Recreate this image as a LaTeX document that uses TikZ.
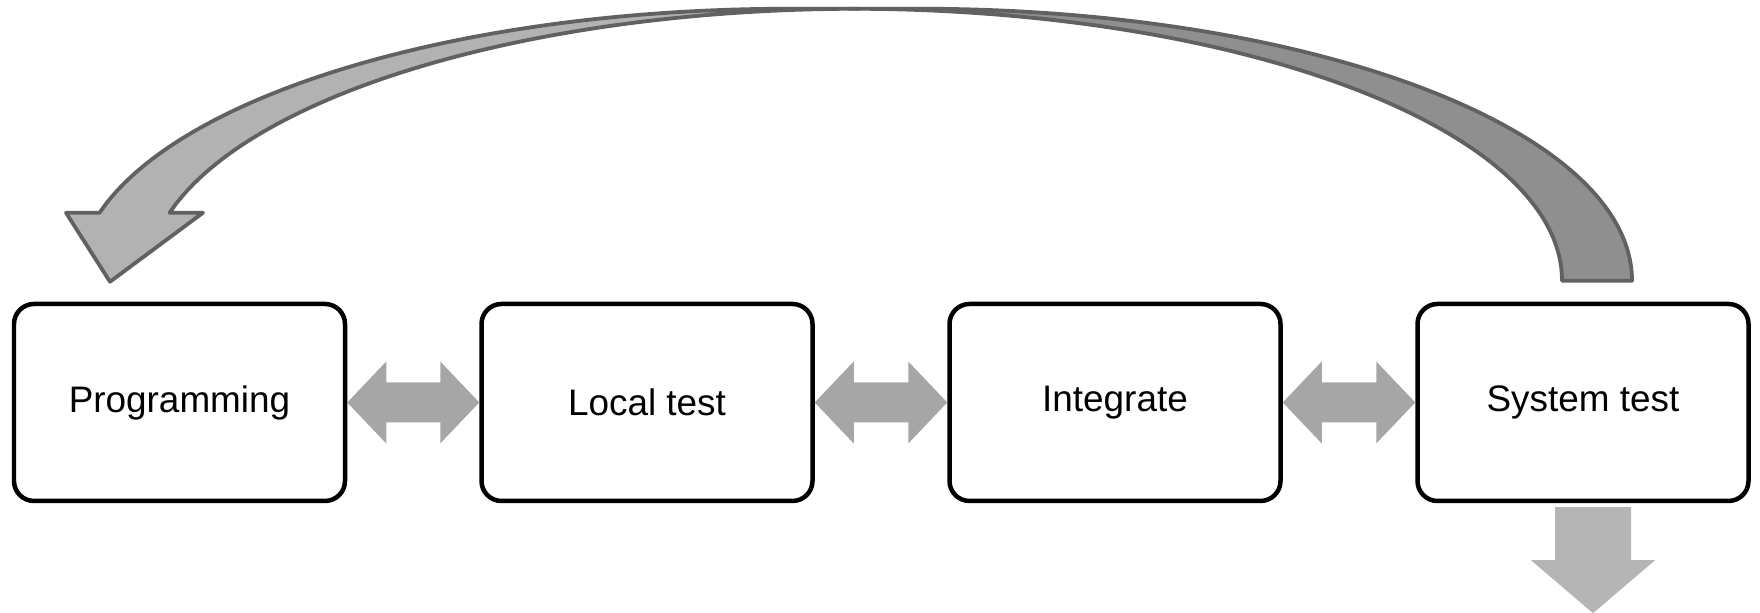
\documentclass[tikz,border=0pt]{standalone}
\usepackage{fontspec}
\setmainfont{Liberation Sans}
\usetikzlibrary{calc}

\begin{document}
\begin{tikzpicture}[
    stage/.style={rectangle, rounded corners=0.2cm, draw, line width=0.45mm, fill=white, minimum width=3.31cm, minimum height=1.97cm, font=\fontsize{10.5}{12.6}\selectfont},
    twoway/.style={fill=black!35},
    handoff/.style={fill=black!29},
    backarc/.style={fill=black!44, draw=black!62, line width=0.38mm, line join=round},
    frontarc/.style={fill=black!30, draw=black!62, line width=0.38mm, line join=round}
]
\useasboundingbox (0,0) rectangle (17.6,6.13);

% Stages
\node[stage] (prog) at (1.795, 2.105) {Programming};
\node[stage] (local) at (6.47, 2.105) {Local test};
\node[stage] (integ) at (11.15, 2.105) {Integrate};
\node[stage] (systest) at (15.83, 2.105) {System test};

% Two-way links between stages
\fill[twoway] (prog.east) -- ++(0.39,0.41) -- ++(0,-0.21) -- ($(local.west)+(-0.39,0.20)$) -- ++(0,0.21) -- (local.west) -- ++(-0.39,-0.41) -- ++(0,0.21) -- ($(prog.east)+(0.39,-0.20)$) -- ++(0,-0.21) -- cycle;
\fill[twoway] (local.east) -- ++(0.39,0.41) -- ++(0,-0.21) -- ($(integ.west)+(-0.39,0.20)$) -- ++(0,0.21) -- (integ.west) -- ++(-0.39,-0.41) -- ++(0,0.21) -- ($(local.east)+(0.39,-0.20)$) -- ++(0,-0.21) -- cycle;
\fill[twoway] (integ.east) -- ++(0.39,0.41) -- ++(0,-0.21) -- ($(systest.west)+(-0.39,0.20)$) -- ++(0,0.21) -- (systest.west) -- ++(-0.39,-0.41) -- ++(0,0.21) -- ($(integ.east)+(0.39,-0.20)$) -- ++(0,-0.21) -- cycle;

% Hand-off out of the system test
\coordinate (outtip) at ($(systest.south)+(0.10,-1.10)$);
\fill[handoff] ($(systest.south)+(-0.28,-0.04)$) -- ++(0.76,0) -- ++(0,-0.53) -- ++(0.24,0) -- (outtip) -- ++(-0.62,0.53) -- ++(0.24,0) -- cycle;

% Feedback arc, back half then front half with the head
\coordinate (arcstart) at ($(systest.north)+(0.49,0.21)$);
\coordinate (arctip) at ($(prog.north)+(-0.695,0.20)$);
\filldraw[backarc] (arcstart) arc[start angle=0, end angle=90, x radius=7.13cm, y radius=2.72cm] -- ++(-0.70,0) arc[start angle=90, end angle=0, x radius=7.13cm, y radius=2.72cm] -- cycle;
\filldraw[frontarc] (arctip) -- ++(-0.44,0.69) -- ++(0.336,0) arc[start angle=165.52, end angle=90, x radius=7.13cm, y radius=2.72cm] -- ++(0.70,0) arc[start angle=90, end angle=165.52, x radius=7.13cm, y radius=2.72cm] -- ++(0.334,0) -- cycle;

\end{tikzpicture}
\end{document}
